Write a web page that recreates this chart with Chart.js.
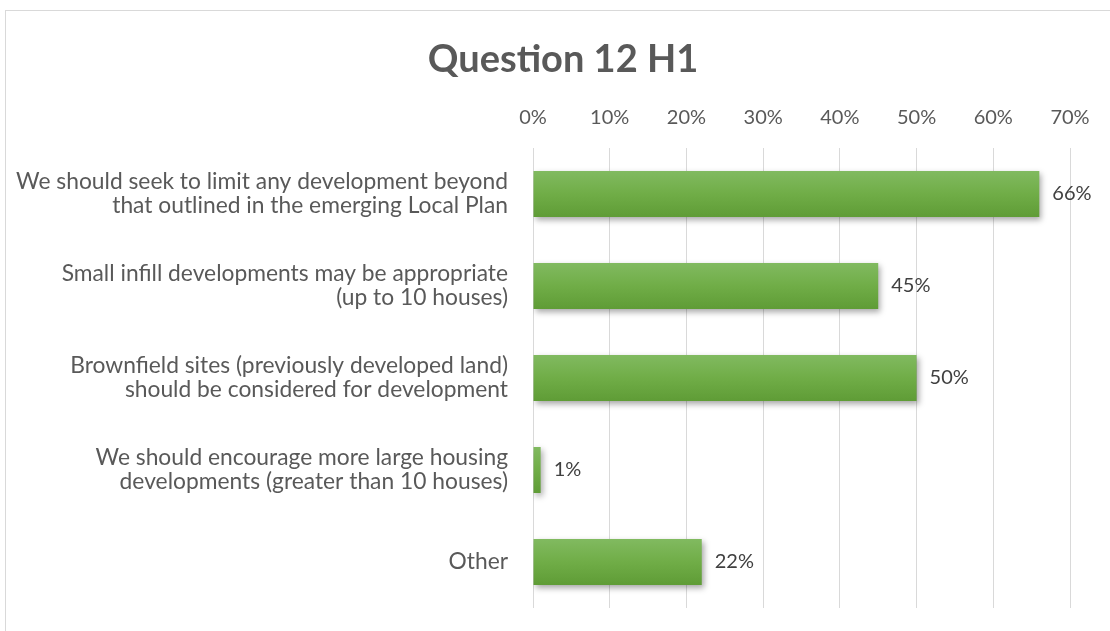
<!DOCTYPE html>
<html>
<head>
<meta charset="utf-8">
<script src="https://cdn.jsdelivr.net/npm/chart.js@4/dist/chart.umd.min.js"></script>
<style>
  html, body { margin: 0; padding: 0; background: #fff; }
  #wrap { width: 1110px; height: 631px; position: relative; }
</style>
</head>
<body>
<div id="wrap"><canvas id="chart"></canvas></div>
<script>
var categories = [
    ["We should seek to limit any development beyond", "that outlined in the emerging Local Plan"],
    ["Small infill developments may be appropriate", "(up to 10 houses)"],
    ["Brownfield sites (previously developed land)", "should be considered for development"],
    ["We should encourage more large housing", "developments (greater than 10 houses)"],
    ["Other"]
];
var values = [66, 45, 50, 1, 22];
var tickValues = [0, 10, 20, 30, 40, 50, 60, 70];
var titleText = 'Question 12 H1';

var FONT = "Lato, 'Open Sans', sans-serif";

// bars get a soft top-to-bottom gradient like the office style
function barFill(c) {
    var chart = c.chart;
    var y = chart.scales.y;
    if (!chart.chartArea || !y || c.dataIndex === undefined) return '#70ad47';
    var center = y.getPixelForValue(c.dataIndex);
    var half = (y.height / categories.length) * 0.25;
    var g = chart.ctx.createLinearGradient(0, center - half, 0, center + half);
    g.addColorStop(0, '#81ba60');
    g.addColorStop(0.5, '#70ad47');
    g.addColorStop(1, '#5f9c36');
    return g;
}

var frame = {
    id: 'frame',
    beforeDraw: function(chart) {
        var ctx = chart.ctx;
        ctx.save();
        ctx.strokeStyle = '#d9d9d9';
        ctx.lineWidth = 1;
        ctx.strokeRect(5.5, 10.5, 1200, 700);
        // title sits a bit right of the canvas centre, like the original
        ctx.font = "bold 38px " + FONT;
        ctx.fillStyle = '#595959';
        ctx.textAlign = 'center';
        ctx.textBaseline = 'alphabetic';
        ctx.fillText(titleText, 563, 72);
        ctx.restore();
    }
};

var shadow = {
    id: 'shadow',
    beforeDatasetsDraw: function(chart) {
        var ctx = chart.ctx;
        ctx.save();
        ctx.shadowColor = 'rgba(0,0,0,0.35)';
        ctx.shadowBlur = 6;
        ctx.shadowOffsetX = 2;
        ctx.shadowOffsetY = 3;
    },
    afterDatasetsDraw: function(chart) {
        chart.ctx.restore();
    }
};

var valueLabels = {
    id: 'valueLabels',
    afterDatasetsDraw: function(chart) {
        var ctx = chart.ctx;
        var meta = chart.getDatasetMeta(0);
        ctx.save();
        ctx.font = "20px " + FONT;
        ctx.fillStyle = '#404040';
        ctx.textAlign = 'left';
        ctx.textBaseline = 'middle';
        meta.data.forEach(function(bar, i) {
            ctx.fillText(values[i] + '%', bar.x + 13, bar.y);
        });
        ctx.restore();
    }
};

var ctx = document.getElementById("chart");
var myChart = new Chart(ctx, {
    type: 'bar',
    data: {
        labels: categories,
        datasets: [{
            data: values,
            backgroundColor: barFill,
            borderWidth: 0,
            categoryPercentage: 1,
            barPercentage: 0.5
        }]
    },
    options: {
        indexAxis: 'y',
        responsive: true,
        maintainAspectRatio: false,
        animation: false,
        layout: {
            padding: { left: 0, right: 40, top: 90, bottom: 23 }
        },
        plugins: {
            legend: { display: false },
            tooltip: { enabled: false },
            title: { display: false }
        },
        scales: {
            x: {
                position: 'top',
                min: 0,
                max: 70,
                afterBuildTicks: function(s) {
                    s.ticks = tickValues.map(function(v) { return { value: v }; });
                },
                afterFit: function(s) { s.height = 148 - 90; },
                border: { display: false },
                grid: { color: '#d9d9d9', drawTicks: false },
                ticks: {
                    padding: 18,
                    color: '#595959',
                    font: { family: FONT, size: 20, lineHeight: 1.2 },
                    callback: function(v) { return v + '%'; }
                }
            },
            y: {
                afterFit: function(s) {
                    s.width = 533;
                    s.paddingTop = 0;
                    s.paddingBottom = 0;
                },
                border: { display: false },
                grid: { display: false, drawTicks: false },
                ticks: {
                    padding: 25,
                    color: '#595959',
                    font: { family: FONT, size: 22.8, lineHeight: 1.05 }
                }
            }
        }
    },
    plugins: [frame, shadow, valueLabels]
});
</script>
</body>
</html>
